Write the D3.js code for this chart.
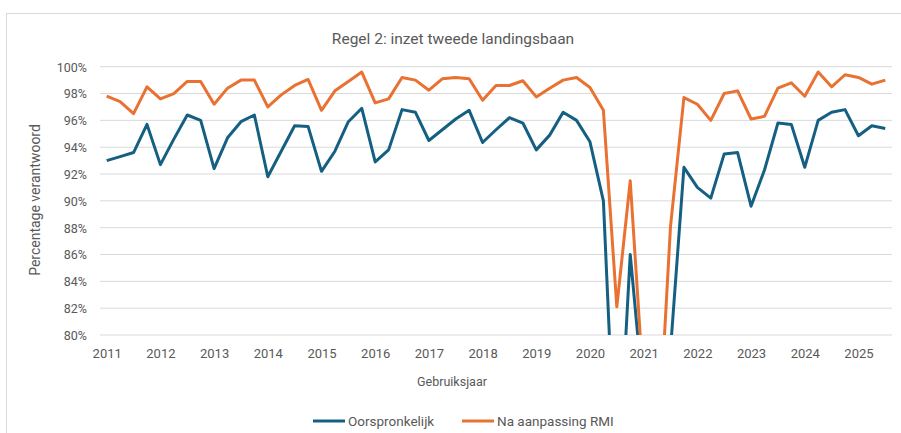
<!DOCTYPE html>
<html>
<head>
<meta charset="utf-8">
<script src="https://cdn.jsdelivr.net/npm/d3@7"></script>
<style>
  body { margin: 0; background: #fff; }
  svg text { font-family: "Liberation Sans Narrow", "Roboto", sans-serif; fill: #595959; }
</style>
</head>
<body>
<svg id="chart" width="901" height="433"></svg>
<script>
// kwartaalwaarden per gebruiksjaar, 2011 t/m 2025 (Q3)
const years = d3.range(2011, 2026);
const oorspronkelijk = [
  93.0, 93.3, 93.6, 95.7, 92.7, 94.6, 96.4, 96.0,
  92.4, 94.7, 95.9, 96.4, 91.8, 93.7, 95.6, 95.55,
  92.2, 93.7, 95.9, 96.9, 92.9, 93.8, 96.8, 96.6,
  94.5, 95.3, 96.1, 96.75, 94.35, 95.3, 96.2, 95.8,
  93.8, 94.9, 96.6, 96.0, 94.4, 90.0, 67.5, 86.0,
  75.2, 65.0, 78.9, 92.5, 91.0, 90.2, 93.5, 93.6,
  89.6, 92.3, 95.8, 95.7, 92.5, 96.0, 96.6, 96.8,
  94.85, 95.6, 95.4
];
const naAanpassing = [
  97.8, 97.4, 96.5, 98.5, 97.6, 98.0, 98.9, 98.9,
  97.2, 98.4, 99.0, 99.0, 97.0, 97.9, 98.6, 99.05,
  96.75, 98.2, 98.9, 99.6, 97.3, 97.6, 99.2, 99.0,
  98.25, 99.1, 99.2, 99.1, 97.5, 98.6, 98.6, 98.95,
  97.75, 98.4, 99.0, 99.2, 98.45, 96.75, 82.1, 91.5,
  76.0, 70.0, 88.1, 97.7, 97.2, 96.0, 98.0, 98.2,
  96.1, 96.3, 98.4, 98.8, 97.8, 99.6, 98.5, 99.4,
  99.2, 98.7, 99.0
];
const yTicks = d3.range(80, 101, 2);
const series = [
  { name: "Oorspronkelijk", color: "#156082", values: oorspronkelijk },
  { name: "Na aanpassing RMI", color: "#E97132", values: naAanpassing }
];

const svg = d3.select("#chart");
const plotLeft = 100, plotRight = 892, plotTop = 66.7, plotBottom = 335;

// kader
svg.append("rect").attr("x", 6.5).attr("y", 13.5).attr("width", 900).attr("height", 430)
  .attr("fill", "none").attr("stroke", "#d9d9d9");

const x = d3.scalePoint().domain(d3.range(oorspronkelijk.length)).range([plotLeft, plotRight]).padding(0.5);
const y = d3.scaleLinear().domain([80, 100]).range([plotBottom, plotTop]);

// rasterlijnen
svg.append("g").selectAll("line").data(yTicks).enter().append("line")
  .attr("x1", plotLeft).attr("x2", plotRight)
  .attr("y1", (d) => y(d)).attr("y2", (d) => y(d))
  .attr("stroke", "#d9d9d9").attr("stroke-width", 1);

const yAxis = svg.append("g").attr("transform", `translate(${plotLeft},0)`)
  .call(d3.axisLeft(y).tickValues(yTicks).tickSize(0).tickPadding(13).tickFormat((d) => `${d}%`));
yAxis.select(".domain").remove();
yAxis.selectAll("text").attr("font-size", 12.5).attr("dy", "0.35em");

const xAxis = svg.append("g").attr("transform", `translate(0,${plotBottom})`)
  .call(d3.axisBottom(x).tickValues(years.map((yr, i) => i * 4)).tickSize(0).tickPadding(14)
    .tickFormat((d) => years[d / 4]));
xAxis.select(".domain").remove();
xAxis.selectAll("text").attr("font-size", 13);

svg.append("defs").append("clipPath").attr("id", "plot-clip")
  .append("rect").attr("x", plotLeft).attr("y", plotTop - 10).attr("width", plotRight - plotLeft).attr("height", plotBottom - plotTop + 10);

const line = d3.line().x((d, i) => x(i)).y((d) => y(d));
svg.append("g").attr("clip-path", "url(#plot-clip)").selectAll("path").data(series).enter().append("path")
  .attr("d", (d) => line(d.values))
  .attr("fill", "none")
  .attr("stroke", (d) => d.color)
  .attr("stroke-width", 3)
  .attr("stroke-linejoin", "round");

svg.append("text").attr("x", 453).attr("y", 44).attr("text-anchor", "middle").attr("font-size", 15.5)
  .text("Regel 2: inzet tweede landingsbaan");
svg.append("text").attr("x", 452).attr("y", 386).attr("text-anchor", "middle").attr("font-size", 12.5)
  .text("Gebruiksjaar");
svg.append("text").attr("transform", "translate(40,200) rotate(-90)").attr("text-anchor", "middle").attr("font-size", 14)
  .text("Percentage verantwoord");

// legenda
const legendX = [313, 462];
const legend = svg.append("g").selectAll("g").data(series).enter().append("g")
  .attr("transform", (d, i) => `translate(${legendX[i]},421)`);
legend.append("line").attr("x1", 0).attr("x2", 32).attr("stroke", (d) => d.color).attr("stroke-width", 3);
legend.append("text").attr("x", 35).attr("dy", "0.35em").attr("font-size", 13.5).text((d) => d.name);
</script>
</body>
</html>
